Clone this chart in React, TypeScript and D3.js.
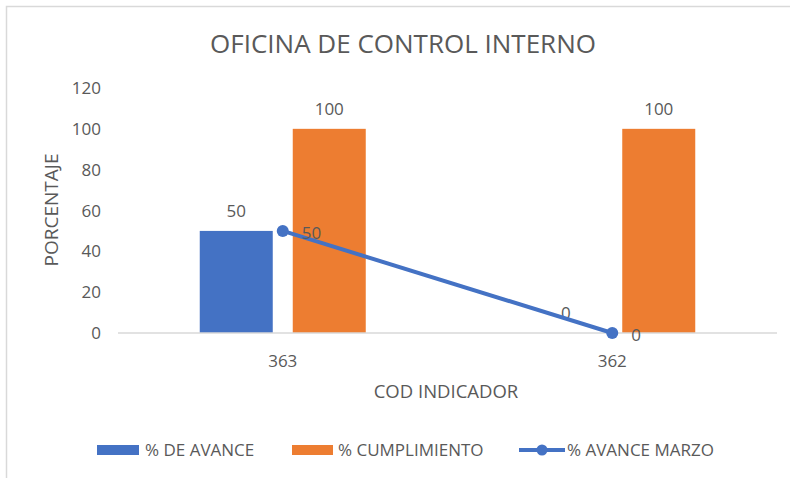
import React from 'react';
import * as d3 from 'd3';

const categories = ['363', '362'];
const avance = [50, 0];
const cumplimiento = [100, 100];
const avanceMarzo = [50, 0];
const yTicks = [0, 20, 40, 60, 80, 100, 120];

const W = 790;
const H = 478;
const plot = { left: 118, right: 777, top: 88, bottom: 333 };
const grey = '#595959';
const blue = '#4472c4';
const orange = '#ed7d31';
const font = '"Open Sans", "Noto Sans", sans-serif';

export default function App() {
  const x = d3.scaleBand().domain(categories).range([plot.left, plot.right]);
  const y = d3.scaleLinear().domain([0, 120]).range([plot.bottom, plot.top]);
  const barW = 73;
  const gap = 20;

  const line = d3.line<number>()
    .x((_, i) => x(categories[i])! + x.bandwidth() / 2)
    .y(d => y(d));

  return (
    <div style={{ position: 'fixed', left: 0, top: 0 }}>
      <svg width={W} height={H} style={{ display: 'block', fontFamily: font }}>
        <rect x={0} y={0} width={W} height={H} fill="#fff" />
        {/* chart frame, cut off on the right and bottom */}
        <rect x={6.5} y={6.5} width={W + 20} height={H + 20} fill="none" stroke="#d9d9d9" strokeWidth={1.5} />

        <text x={403} y={53} textAnchor="middle" fontSize={26} fill={grey}>
          OFICINA DE CONTROL INTERNO
        </text>

        {/* y ticks */}
        {yTicks.map(t => (
          <text key={t} x={101} y={y(t)} dy="0.36em" textAnchor="end" fontSize={17} fill={grey}>
            {t}
          </text>
        ))}
        <text
          transform={`translate(58,210) rotate(-90)`}
          textAnchor="middle"
          fontSize={19}
          fill={grey}
        >
          PORCENTAJE
        </text>

        {/* bars */}
        {categories.map((c, i) => {
          const cx = x(c)! + x.bandwidth() / 2;
          const bx = cx - gap / 2 - barW;
          const ox = cx + gap / 2;
          return (
            <g key={c}>
              <rect x={bx} y={y(avance[i])} width={barW} height={y(0) - y(avance[i])} fill={blue} />
              <rect x={ox} y={y(cumplimiento[i])} width={barW} height={y(0) - y(cumplimiento[i])} fill={orange} />
              <text x={bx + barW / 2} y={y(avance[i]) - 14} textAnchor="middle" fontSize={17} fill={grey}>
                {avance[i]}
              </text>
              <text x={ox + barW / 2} y={y(cumplimiento[i]) - 14} textAnchor="middle" fontSize={17} fill={grey}>
                {cumplimiento[i]}
              </text>
              <text x={cx} y={plot.bottom + 34} textAnchor="middle" fontSize={17} fill={grey}>
                {c}
              </text>
            </g>
          );
        })}

        {/* axis line */}
        <line x1={plot.left} x2={plot.right} y1={plot.bottom} y2={plot.bottom} stroke="#d9d9d9" strokeWidth={1.5} />

        {/* line series */}
        <path d={line(avanceMarzo) || ''} fill="none" stroke={blue} strokeWidth={4} />
        {avanceMarzo.map((v, i) => {
          const cx = x(categories[i])! + x.bandwidth() / 2;
          return (
            <g key={i}>
              <circle cx={cx} cy={y(v)} r={6} fill={blue} />
              <text x={cx + 19} y={y(v) + 2} dy="0.36em" fontSize={17} fill={grey}>
                {v}
              </text>
            </g>
          );
        })}

        <text x={446} y={398} textAnchor="middle" fontSize={18.5} fill={grey}>
          COD INDICADOR
        </text>

        {/* legend */}
        <g fontSize={17} fill={grey}>
          <rect x={97} y={445} width={42} height={10} fill={blue} />
          <text x={145} y={456}>% DE AVANCE</text>
          <rect x={292} y={445} width={41} height={10} fill={orange} />
          <text x={338} y={456}>% CUMPLIMIENTO</text>
          <line x1={519} x2={565} y1={450} y2={450} stroke={blue} strokeWidth={4} />
          <circle cx={542} cy={450} r={5.5} fill={blue} />
          <text x={567} y={456}>% AVANCE MARZO</text>
        </g>
      </svg>
    </div>
  );
}
